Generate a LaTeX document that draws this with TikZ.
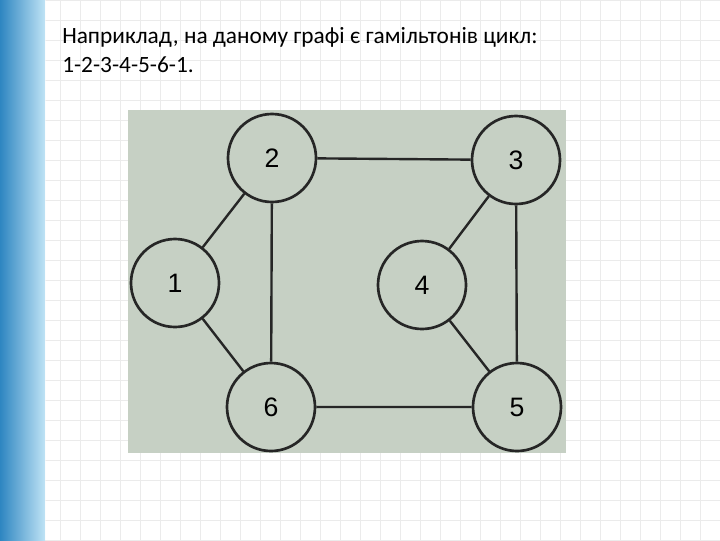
\documentclass[tikz,border=0pt]{standalone}
\usepackage{fontspec}
\setmainfont{Carlito}
\newfontfamily\numfont{Liberation Sans}
\definecolor{photo}{HTML}{C6D0C4}
\definecolor{stripA}{HTML}{2E86C1}
\definecolor{stripB}{HTML}{BFE3F5}
\begin{document}
\begin{tikzpicture}[x=0.75pt,y=-0.75pt,
  vert/.style={circle,draw=black!85,line width=2pt,fill=photo,minimum size=66pt,inner sep=0pt,font=\numfont\fontsize{20}{22}\selectfont},
  edge/.style={draw=black!85,line width=1.8pt}]
\useasboundingbox (0,0) rectangle (720,540);
\fill[white] (0,0) rectangle (720,540);
\draw[black!8,line width=0.5pt,step=15pt] (0,0) grid (540pt,-405pt);
\shade[left color=stripA,right color=stripB] (0,0) rectangle (45,540);
\draw[white,opacity=0.5] (45,0) -- (45,540);
\node[anchor=west,inner sep=0pt,font=\fontsize{17.5}{20}\selectfont] (t1) at (62,37) {Наприклад, на даному графі є гамільтонів цикл:};
\node[anchor=west,inner sep=0pt,font=\fontsize{17.5}{20}\selectfont] (t2) at (62,65) {1-2-3-4-5-6-1.};
\fill[photo] (128,110) rectangle (566,453);
\node[vert] (n2) at (272,158) {2};
\node[vert] (n3) at (516,160) {3};
\node[vert] (n1) at (175,283) {1};
\node[vert] (n4) at (422,285) {4};
\node[vert] (n6) at (271,407) {6};
\node[vert] (n5) at (517,407) {5};
\draw[edge] (n1)--(n2) (n2)--(n3) (n2)--(n6) (n1)--(n6) (n3)--(n4) (n4)--(n5) (n3)--(n5) (n6)--(n5);
\end{tikzpicture}
\end{document}
